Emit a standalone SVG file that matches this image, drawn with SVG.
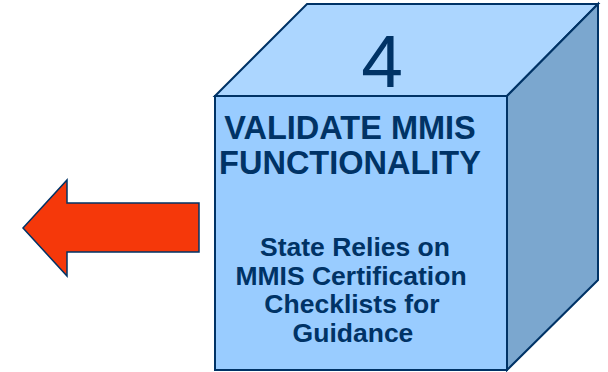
<svg xmlns="http://www.w3.org/2000/svg" width="608" height="372" viewBox="0 0 608 372">
<style>
.edge{stroke:#003366;stroke-width:2;stroke-linejoin:miter}
.t{font-family:"Liberation Sans",Arial,sans-serif;fill:#003366;text-anchor:middle}
.b{font-weight:bold}
</style>
<rect width="608" height="372" fill="#ffffff"/>
<g id="cube">
<polygon class="edge" fill="#ACD6FF" points="215,96 307,4 598,4 507,96"/>
<polygon class="edge" fill="#7BA7CF" points="507,96 598,4 598,280 507,370"/>
<rect class="edge" fill="#99CCFF" x="215" y="96" width="292" height="274"/>
<text class="t" x="382" y="87" font-size="75">4</text>
<text class="t b" font-size="32.5"><tspan x="350" y="139">VALIDATE MMIS</tspan><tspan x="350" y="174">FUNCTIONALITY</tspan></text>
<text class="t b" font-size="26.5"><tspan x="355" y="256">State Relies on</tspan><tspan x="351" y="284.5">MMIS Certification</tspan><tspan x="352" y="313">Checklists for</tspan><tspan x="353" y="341.5">Guidance</tspan></text>
</g>
<g id="connectors">
<polygon fill="#F5380A" stroke="#003366" stroke-width="1.5" points="23,228 67,180 67,203 199,203 199,252 67,252 67,276"/>
</g>
</svg>
